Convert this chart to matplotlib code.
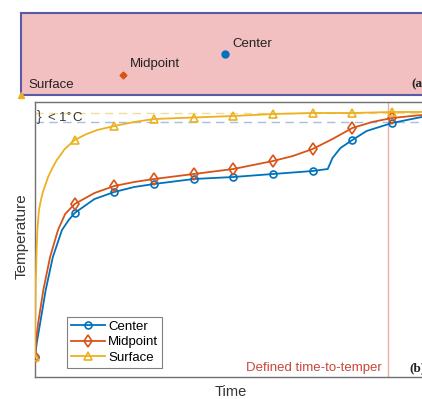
"""
Quench/temper schematic: probe positions in a slab (a) and temperature-time
curves at centre, midpoint and surface (b).
"""

import numpy as np
import matplotlib
matplotlib.use("Agg")
import matplotlib.pyplot as plt

plt.rcParams["font.family"] = ["Liberation Sans", "DejaVu Sans"]

# ---- data (arbitrary units) ----
# probe positions in the slab cross-section (fraction of panel)
probe_names = ["Surface", "Midpoint", "Center"]
probe_x     = [0.0, 0.25, 0.5]
probe_y     = [0.0, 0.25, 0.5]

# temperature curves (time, temperature)
surf_t = [0, 0.005, 0.02, 0.04, 0.06, 0.1, 0.15, 0.2, 0.33, 0.45, 0.55, 0.75, 1, 1.3,
          1.57, 2, 2.5, 3, 4, 5, 6, 7, 8, 9, 10]
surf_T = [20, 54, 95, 125, 147, 167, 177, 185, 200, 210, 217, 228, 237, 243,
          247, 251, 255, 258, 259.5, 261, 263, 264, 264, 265, 265]

mid_t = [0, 0.03, 0.08, 0.21, 0.38, 0.58, 0.76, 1, 1.5, 2, 2.5, 3, 4, 5, 6, 6.5, 7,
         7.5, 8, 8.5, 9, 9.75, 10]
mid_T = [20, 37, 54, 87, 120, 147, 163, 173, 184, 191, 195, 198, 203, 208, 216, 221,
         228, 238, 249, 255, 259, 262, 263]

cen_t = [0, 0.04, 0.13, 0.27, 0.45, 0.68, 0.85, 1, 1.5, 2, 2.5, 3, 4, 5, 6, 7, 7.38,
         7.5, 7.7, 8, 8.36, 9, 9.75, 10]
cen_T = [20, 33, 54, 87, 120, 147, 157, 164, 178, 185, 190, 193, 198, 200, 203, 206,
         208, 219, 229, 237, 246, 254, 260, 261]

marker_times = [0, 1, 2, 3, 4, 5, 6, 7, 8, 9]

surf_final = 264        # yellow dashed reference
cen_final  = 255        # blue dashed reference
t_temper   = 8.9        # defined time-to-temper

C_BLUE, C_ORANGE, C_YELLOW = "#0072BD", "#D95319", "#EDB120"

fig = plt.figure(figsize=(4.22, 3.99), dpi=100)

# ---- (a) slab schematic ----
axa = fig.add_axes([21 / 422, (399 - 95) / 399, 408 / 422, 82 / 399])
axa.set_facecolor("#f2c0c0")
axa.set_xlim(0, 1)
axa.set_ylim(0, 1)
axa.set_xticks([])
axa.set_yticks([])
for s in axa.spines.values():
    s.set_color("#5a5aa8")
    s.set_linewidth(1.5)

styles = [("^", C_YELLOW), ("D", C_ORANGE), ("o", C_BLUE)]
for name, x, y, (m, c) in zip(probe_names, probe_x, probe_y, styles):
    axa.plot(x, y, marker=m, color=c, ms=5 if m != "D" else 3.5, clip_on=False, zorder=5)
    axa.annotate(name, (x, y), xytext=(5, 3), textcoords="offset points",
                 fontsize=9.5, color="#222222", va="bottom", ha="left")
axa.text(0.958, 0.1, "(a)", transform=axa.transAxes, fontsize=9.5, fontweight="bold",
         family="Liberation Serif", color="#222222")

# ---- (b) temperature histories ----
ax = fig.add_axes([35 / 422, 22 / 399, 416.5 / 422, 275 / 399])
ax.set_xlim(0, 10.5)
ax.set_ylim(0, 275)
ax.set_xticks([])
ax.set_yticks([])
for s in ax.spines.values():
    s.set_color("#707070")
    s.set_linewidth(1.0)

ax.axhline(surf_final, color="#f2dc9a", ls=(0, (6, 4)), lw=1.0, zorder=1)
ax.axhline(cen_final, color="#a9bedc", ls=(0, (6, 4)), lw=1.0, zorder=1)
ax.axvline(t_temper, color="#e8b0a0", lw=1.0, zorder=1)

def idx(ts):
    return [ts.index(t) for t in marker_times]

ax.plot(cen_t, cen_T, color=C_BLUE, lw=1.3, marker="o", ms=5, mfc="none", mew=1.2,
        markevery=idx(cen_t), label="Center", zorder=3)
ax.plot(mid_t, mid_T, color=C_ORANGE, lw=1.3, marker="d", ms=6, mfc="none", mew=1.2,
        markevery=idx(mid_t), label="Midpoint", zorder=4)
ax.plot(surf_t, surf_T, color=C_YELLOW, lw=1.3, marker="^", ms=5.5, mfc="none", mew=1.2,
        markevery=idx(surf_t), label="Surface", zorder=5)

ax.text(0.04, (surf_final + cen_final) / 2, "}", fontsize=10, va="center", ha="left",
        color="#444444", fontweight="light")
ax.text(0.3, (surf_final + cen_final) / 2 - 1, "< 1$^{\\circ}$C", fontsize=9.5,
        va="center", ha="left", color="#333333")

ax.text(t_temper - 0.15, 9, "Defined time-to-temper", color="#c8463c", fontsize=9.5,
        ha="right", va="center")
ax.text(t_temper + 0.55, 9, "(b)", fontsize=9.5, fontweight="bold",
        family="Liberation Serif", ha="left", va="center", color="#222222")

leg = ax.legend(loc="lower left", bbox_to_anchor=(0.077, 0.033), borderaxespad=0,
                fontsize=9.5, handlelength=2.6, handletextpad=0.2, labelspacing=0.25,
                borderpad=0.3, fancybox=False, framealpha=1, edgecolor="#808080")
leg.get_frame().set_linewidth(0.8)

fig.text(22 / 422, 1 - 236 / 399, "Temperature", rotation=90, fontsize=11,
         ha="center", va="center", color="#333333")
fig.text(231 / 422, 1 - 392 / 399, "Time", fontsize=10.5, ha="center", va="center",
         color="#333333")

fig.savefig("out.png", dpi=100)
